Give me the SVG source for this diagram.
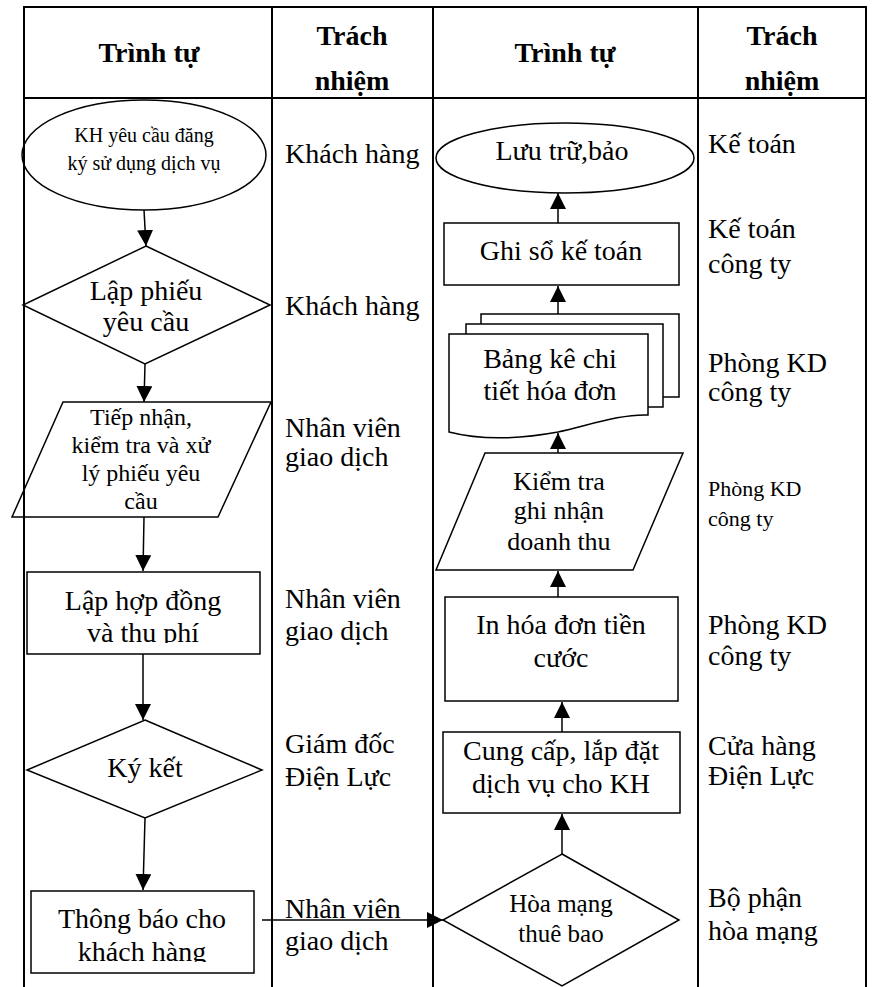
<svg xmlns="http://www.w3.org/2000/svg" width="872" height="987" viewBox="0 0 872 987">
<style>
.grid{stroke:#000;stroke-width:2;fill:none}
.shape{stroke:#000;stroke-width:1.5;fill:none}
.conn{stroke:#000;stroke-width:1.5;fill:none}
text{font-family:"Liberation Serif","Times New Roman",serif;fill:#000}
.h{font-size:28px;font-weight:bold;text-anchor:middle}
.t{font-size:28px}
.c{text-anchor:middle}
.s20{font-size:20px}
.s22{font-size:22px}
.s24{font-size:24px}
.s25{font-size:25px}
.s26{font-size:26px}
</style>
<defs>
<marker id="ah" viewBox="0 0 16 16" refX="16" refY="8" markerWidth="16" markerHeight="16" markerUnits="userSpaceOnUse" orient="auto">
<path d="M0,0 L16,8 L0,16 z" fill="#000"/>
</marker>
<clipPath id="clipA"><rect x="27" y="572" width="233" height="71"/></clipPath>
<clipPath id="clipB"><rect x="31" y="891" width="223" height="71"/></clipPath>
</defs>
<rect width="872" height="987" fill="#fff"/>
<g id="table">
<line class="grid" x1="24" y1="7" x2="866" y2="7"/>
<line class="grid" x1="24" y1="98" x2="866" y2="98"/>
<line class="grid" x1="24" y1="6" x2="24" y2="987"/>
<line class="grid" x1="272" y1="6" x2="272" y2="987"/>
<line class="grid" x1="433" y1="6" x2="433" y2="987"/>
<line class="grid" x1="698" y1="6" x2="698" y2="987"/>
<line class="grid" x1="866" y1="6" x2="866" y2="987"/>
<text class="h" x="149" y="62">Trình tự</text>
<text class="h" x="352" y="45">Trách</text>
<text class="h" x="352" y="90">nhiệm</text>
<text class="h" x="565" y="62">Trình tự</text>
<text class="h" x="782" y="45">Trách</text>
<text class="h" x="782" y="90">nhiệm</text>
</g>
<g id="labels">
<text class="t" x="285" y="163">Khách hàng</text>
<text class="t" x="285" y="315">Khách hàng</text>
<text class="t" x="285" y="437">Nhân viên</text>
<text class="t" x="285" y="466">giao dịch</text>
<text class="t" x="285" y="608">Nhân viên</text>
<text class="t" x="285" y="640">giao dịch</text>
<text class="t" x="285" y="753">Giám đốc</text>
<text class="t" x="285" y="786">Điện Lực</text>
<text class="t" x="285" y="918">Nhân viên</text>
<text class="t" x="285" y="950">giao dịch</text>
<text class="t" x="708" y="153">Kế toán</text>
<text class="t" x="708" y="238">Kế toán</text>
<text class="t" x="708" y="273">công ty</text>
<text class="t" x="708" y="372">Phòng KD</text>
<text class="t" x="708" y="401">công ty</text>
<text class="s22" x="708" y="496">Phòng KD</text>
<text class="s22" x="708" y="526">công ty</text>
<text class="t" x="708" y="634">Phòng KD</text>
<text class="t" x="708" y="665">công ty</text>
<text class="t" x="708" y="755">Cửa hàng</text>
<text class="t" x="708" y="785">Điện Lực</text>
<text class="t" x="708" y="907">Bộ phận</text>
<text class="t" x="708" y="940">hòa mạng</text>
</g>
<g id="n1">
<ellipse class="shape" cx="144" cy="155" rx="122" ry="55"/>
<text class="s20 c" x="144" y="142">KH yêu cầu đăng</text>
<text class="s20 c" x="144" y="170">ký sử dụng dịch vụ</text>
</g>
<g id="n2">
<polygon class="shape" points="146,246 270,305 145,364 23,305"/>
<text class="t c" x="146" y="300">Lập phiếu</text>
<text class="t c" x="146" y="331">yêu cầu</text>
</g>
<g id="n3">
<polygon class="shape" points="63,402 271,402 218,517 12,517"/>
<text class="s24 c" x="141" y="425">Tiếp nhận,</text>
<text class="s24 c" x="141" y="453">kiểm tra và xử</text>
<text class="s24 c" x="141" y="481">lý phiếu yêu</text>
<text class="s24 c" x="141" y="509">cầu</text>
</g>
<g id="n4">
<rect class="shape" x="27" y="572" width="233" height="82"/>
<g clip-path="url(#clipA)">
<text class="t c" x="143" y="610">Lập hợp đồng</text>
<text class="t c" x="143" y="642">và thu phí</text>
</g>
</g>
<g id="n5">
<polygon class="shape" points="145,720 262,770 145,818 27,770"/>
<text class="t c" x="145" y="777">Ký kết</text>
</g>
<g id="n6">
<rect class="shape" x="31" y="891" width="223" height="82"/>
<g clip-path="url(#clipB)">
<text class="t c" x="142" y="928">Thông báo cho</text>
<text class="t c" x="142" y="961">khách hàng</text>
</g>
</g>
<g id="n7">
<polygon class="shape" points="562,854 679,920 562,986 443,920"/>
<text class="s25 c" x="561" y="912">Hòa mạng</text>
<text class="s25 c" x="561" y="942">thuê bao</text>
</g>
<g id="n8">
<rect class="shape" x="443" y="732" width="237" height="81"/>
<text class="t c" x="561" y="760">Cung cấp, lắp đặt</text>
<text class="t c" x="561" y="793">dịch vụ cho KH</text>
</g>
<g id="n9">
<rect class="shape" x="445" y="597" width="233" height="104"/>
<text class="t c" x="561" y="634">In hóa đơn tiền</text>
<text class="t c" x="561" y="667">cước</text>
</g>
<g id="n10">
<polygon class="shape" points="485,453 683,453 633,570 436,570"/>
<text class="s26 c" x="559" y="490">Kiểm tra</text>
<text class="s26 c" x="559" y="519">ghi nhận</text>
<text class="s26 c" x="559" y="550">doanh thu</text>
</g>
<g id="n11">
<polyline class="shape" points="481,324 481,314 679,314 679,397 663,397"/>
<polyline class="shape" points="466,334 466,324 663,324 663,407 648,407"/>
<path class="shape" d="M449,334 H648 V415 C620,414 590,425 558,432 C520,439 480,440 449,432 Z"/>
<text class="t c" x="550" y="368">Bảng kê chi</text>
<text class="t c" x="550" y="400">tiết hóa đơn</text>
</g>
<g id="n12">
<rect class="shape" x="444" y="223" width="235" height="62"/>
<text class="t c" x="561" y="260">Ghi sổ kế toán</text>
</g>
<g id="n13">
<ellipse class="shape" cx="565" cy="158" rx="129" ry="35"/>
<text class="t c" x="562" y="160">Lưu trữ,bảo</text>
</g>
<g id="connectors">
<line class="conn" x1="144" y1="210" x2="146" y2="246" marker-end="url(#ah)"/>
<line class="conn" x1="145" y1="364" x2="144" y2="402" marker-end="url(#ah)"/>
<line class="conn" x1="144" y1="517" x2="143" y2="571" marker-end="url(#ah)"/>
<line class="conn" x1="143" y1="654" x2="143" y2="720" marker-end="url(#ah)"/>
<line class="conn" x1="145" y1="818" x2="143" y2="890" marker-end="url(#ah)"/>
<line class="conn" x1="262" y1="920" x2="443" y2="920" marker-end="url(#ah)"/>
<line class="conn" x1="562" y1="854" x2="562" y2="814" marker-end="url(#ah)"/>
<line class="conn" x1="562" y1="732" x2="562" y2="702" marker-end="url(#ah)"/>
<line class="conn" x1="558" y1="597" x2="558" y2="571" marker-end="url(#ah)"/>
<line class="conn" x1="558" y1="453" x2="558" y2="433" marker-end="url(#ah)"/>
<line class="conn" x1="558" y1="314" x2="558" y2="286" marker-end="url(#ah)"/>
<line class="conn" x1="558" y1="223" x2="558" y2="193" marker-end="url(#ah)"/>
</g>
</svg>
